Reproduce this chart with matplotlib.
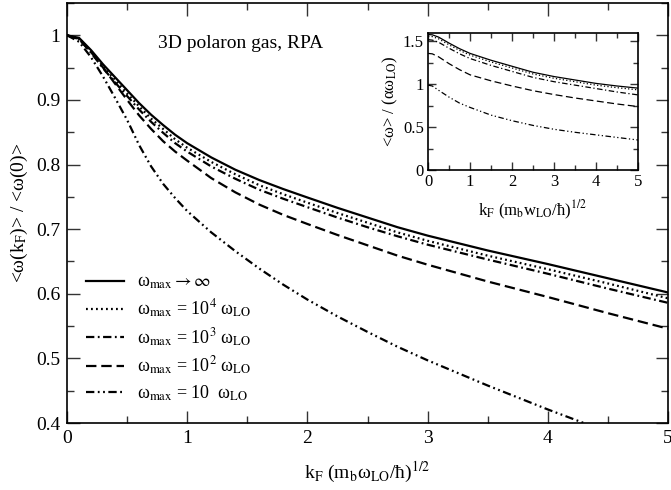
import matplotlib
matplotlib.use("Agg")
import matplotlib.pyplot as plt
from matplotlib.ticker import MultipleLocator

plt.rcParams["font.family"] = ["Liberation Serif", "DejaVu Serif"]
plt.rcParams["mathtext.fontset"] = "stix"
plt.rcParams["lines.scale_dashes"] = False

# -------------------------------------------------------------------
# Data
# -------------------------------------------------------------------
# main panel: <w(kF)> / <w(0)>
k_main = [0.0, 0.1, 0.2, 0.3, 0.4, 0.5, 0.6, 0.7, 0.8, 0.9, 1.0, 1.2, 1.4, 1.6, 1.8,
          2.0, 2.25, 2.5, 2.75, 3.0, 3.5, 4.0, 4.5, 5.0]
ratio_inf = [1.0, 0.996, 0.977, 0.955, 0.935, 0.915, 0.895, 0.877, 0.861, 0.846, 0.833,
             0.811, 0.792, 0.776, 0.762, 0.749, 0.733, 0.718, 0.703, 0.690, 0.667,
             0.646, 0.624, 0.602]
ratio_1e4 = [1.0, 0.995, 0.975, 0.952, 0.931, 0.910, 0.890, 0.871, 0.855, 0.839, 0.826,
             0.804, 0.785, 0.768, 0.754, 0.741, 0.725, 0.710, 0.695, 0.682, 0.659,
             0.638, 0.616, 0.593]
ratio_1e3 = [1.0, 0.994, 0.973, 0.949, 0.927, 0.906, 0.885, 0.866, 0.849, 0.833, 0.820,
             0.797, 0.778, 0.761, 0.747, 0.734, 0.718, 0.703, 0.689, 0.676, 0.653,
             0.631, 0.608, 0.586]
ratio_1e2 = [1.0, 0.994, 0.974, 0.950, 0.925, 0.900, 0.876, 0.855, 0.836, 0.820, 0.806,
             0.779, 0.757, 0.738, 0.722, 0.708, 0.691, 0.675, 0.659, 0.645, 0.619,
             0.595, 0.570, 0.546]
ratio_1e1 = [1.0, 0.990, 0.966, 0.936, 0.903, 0.869, 0.830, 0.797, 0.770, 0.748, 0.728,
             0.695, 0.666, 0.639, 0.614, 0.591, 0.565, 0.541, 0.518, 0.497, 0.458,
             0.421, 0.386, 0.354]

# inset: <w> / (alpha w_LO)
k_ins = [0.0, 0.1, 0.25, 0.5, 0.75, 1.0, 1.5, 2.0, 2.5, 3.0, 3.5, 4.0, 4.5, 5.0]
w_inf = [1.58, 1.577, 1.55, 1.48, 1.415, 1.36, 1.28, 1.21, 1.14, 1.09, 1.05, 1.01, 0.98, 0.955]
w_1e4 = [1.56, 1.556, 1.53, 1.46, 1.395, 1.34, 1.26, 1.19, 1.12, 1.07, 1.03, 0.99, 0.96, 0.935]
w_1e3 = [1.52, 1.515, 1.49, 1.42, 1.355, 1.30, 1.22, 1.15, 1.08, 1.03, 0.99, 0.95, 0.91, 0.876]
w_1e2 = [1.36, 1.355, 1.32, 1.24, 1.17, 1.11, 1.04, 0.98, 0.925, 0.88, 0.84, 0.805, 0.77, 0.74]
w_1e1 = [0.99, 0.98, 0.93, 0.85, 0.78, 0.73, 0.64, 0.575, 0.52, 0.475, 0.44, 0.41, 0.38, 0.35]

labels = [r"ω$_{\mathrm{max}}\rightarrow\infty$",
          r"ω$_{\mathrm{max}}$ = 10$^{4}$ ω$_{\mathrm{LO}}$",
          r"ω$_{\mathrm{max}}$ = 10$^{3}$ ω$_{\mathrm{LO}}$",
          r"ω$_{\mathrm{max}}$ = 10$^{2}$ ω$_{\mathrm{LO}}$",
          r"ω$_{\mathrm{max}}$ = 10  ω$_{\mathrm{LO}}$"]

dashes_main = [(None, None), (0, (1.3, 2.3)), (0, (6, 2.5, 1.3, 2.5)),
               (0, (7.5, 3.5)), (0, (6, 2.5, 1.3, 2.5, 1.3, 2.5))]
dashes_ins = [(None, None), (0, (0.9, 1.6)), (0, (4, 1.8, 0.9, 1.8)),
              (0, (5, 2.5)), (0, (4, 1.8, 0.9, 1.8, 0.9, 1.8))]


def style_ticks(ax, length, size):
    ax.tick_params(which="both", direction="in", top=True, right=True,
                   labelsize=size, color="#333333")
    ax.tick_params(which="major", length=length, width=1.0, pad=5)
    ax.tick_params(which="minor", length=length * 0.55, width=1.0)
    for s in ax.spines.values():
        s.set_linewidth(1.2)


figure = plt.figure(figsize=(6.71, 4.90), dpi=100)
axis = figure.add_axes([0.0999, 0.1367, 0.8956, 0.8572])

series_main = [ratio_inf, ratio_1e4, ratio_1e3, ratio_1e2, ratio_1e1]
for y, lab, ls in zip(series_main, labels, dashes_main):
    line, = axis.plot(k_main, y, color="black", lw=1.6, label=lab)
    if ls[0] is not None:
        line.set_linestyle(ls)

axis.set_xlim(0, 5)
axis.set_ylim(0.4, 1.05)
axis.xaxis.set_major_locator(MultipleLocator(1))
axis.xaxis.set_minor_locator(MultipleLocator(0.5))
axis.yaxis.set_minor_locator(MultipleLocator(0.05))
axis.set_yticks([0.4, 0.5, 0.6, 0.7, 0.8, 0.9, 1.0])
axis.set_yticklabels(["0.4", "0.5", "0.6", "0.7", "0.8", "0.9", "1"])
style_ticks(axis, 9, 14)

axis.set_xlabel(r"k$_{\mathrm{F}}$ (m$_{\mathrm{b}}$ω$_{\mathrm{LO}}$/ħ)$^{1/2}$",
                fontsize=14, labelpad=9)
axis.set_ylabel(r"<ω(k$_{\mathrm{F}}$)> / <ω(0)>", fontsize=14, labelpad=4)

axis.text(0.76, 0.988, "3D polaron gas, RPA", fontsize=14, ha="left", va="center")

axis.legend(loc="lower left", bbox_to_anchor=(0.02, 0.03), frameon=False,
            fontsize=13, handlelength=2.1, handletextpad=0.7, labelspacing=0.35,
            borderaxespad=0)

# -------------------------------------------------------------------
# Inset
# -------------------------------------------------------------------
inset = figure.add_axes([0.638, 0.653, 0.313, 0.28])
series_ins = [w_inf, w_1e4, w_1e3, w_1e2, w_1e1]
for y, ls in zip(series_ins, dashes_ins):
    line, = inset.plot(k_ins, y, color="black", lw=0.9)
    if ls[0] is not None:
        line.set_linestyle(ls)

inset.set_xlim(0, 5)
inset.set_ylim(0, 1.6)
inset.xaxis.set_major_locator(MultipleLocator(1))
inset.xaxis.set_minor_locator(MultipleLocator(0.5))
inset.set_yticks([0, 0.5, 1.0, 1.5])
inset.set_yticklabels(["0", "0.5", "1", "1.5"])
inset.yaxis.set_minor_locator(MultipleLocator(0.25))
style_ticks(inset, 6, 12)
inset.tick_params(which="major", pad=3)

inset.set_xlabel(r"k$_{\mathrm{F}}$ (m$_{\mathrm{b}}$w$_{\mathrm{LO}}$/ħ)$^{1/2}$",
                 fontsize=12, labelpad=6)
inset.set_ylabel(r"<ω> / (αω$_{\mathrm{LO}}$)", fontsize=12, labelpad=2)

figure.savefig("out.png", dpi=100)
